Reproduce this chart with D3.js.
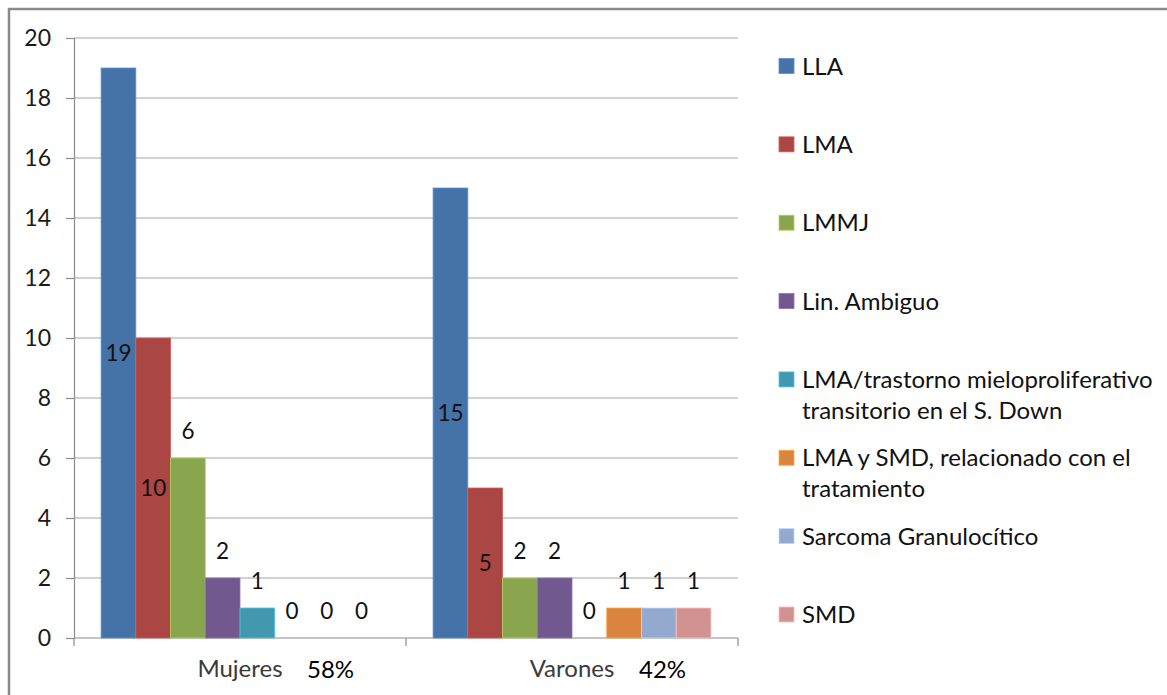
<!DOCTYPE html>
<html>
<head>
<meta charset="utf-8">
<script src="https://cdn.jsdelivr.net/npm/d3@7"></script>
<style>
  html, body { margin: 0; padding: 0; background: #fff; }
  svg { display: block; }
  text { font-family: Lato, "Noto Sans", sans-serif; }
</style>
</head>
<body>
<svg id="chart" width="1167" height="695"></svg>
<script>
// Categories (sex) and their share of cases
const categories = ["Mujeres", "Varones"];
const shares = ["58%", "42%"];

// Diagnosis series, in legend order
const series = [
  "LLA",
  "LMA",
  "LMMJ",
  "Lin. Ambiguo",
  "LMA/trastorno mieloproliferativo transitorio en el S. Down",
  "LMA y SMD, relacionado con el tratamiento",
  "Sarcoma Granulocítico",
  "SMD"
];
// Legend text split into the lines it wraps onto
const legendLines = [
  ["LLA"],
  ["LMA"],
  ["LMMJ"],
  ["Lin. Ambiguo"],
  ["LMA/trastorno mieloproliferativo", "transitorio en el S. Down"],
  ["LMA y SMD, relacionado con el", "tratamiento"],
  ["Sarcoma Granulocítico"],
  ["SMD"]
];
const colors = ["#4572A7", "#AA4643", "#89A54E", "#71588F", "#4198AF", "#DB843D", "#93A9CF", "#D19392"];

// Case counts per series
const mujeres = [19, 10, 6, 2, 1, 0, 0, 0];
const varones = [15, 5, 2, 2, 0, 1, 1, 1];
const values = [mujeres, varones];

// Where each series puts its value label
const labelPlacement = ["center", "center", "outside", "outside", "outside", "outside", "outside", "outside"];

const yTicks = [0, 2, 4, 6, 8, 10, 12, 14, 16, 18, 20];

const svg = d3.select("#chart");

// Chart frame
svg.append("rect")
  .attr("x", 9).attr("y", 9).attr("width", 1200).attr("height", 700)
  .attr("fill", "#fff").attr("stroke", "#8a8a8a").attr("stroke-width", 2.5);

const plot = { left: 74, right: 738, top: 38, bottom: 638 };

const x0 = d3.scaleBand().domain(categories).range([plot.left, plot.right]).paddingInner(0).paddingOuter(0);
const x1 = d3.scaleBand().domain(series).range([0, x0.bandwidth()]).paddingInner(0).paddingOuter(0.78);
const y = d3.scaleLinear().domain([0, 20]).range([plot.bottom, plot.top]);

// Horizontal gridlines
svg.append("g")
  .selectAll("line")
  .data(yTicks.filter(t => t > 0))
  .join("line")
  .attr("x1", plot.left).attr("x2", plot.right)
  .attr("y1", d => y(d)).attr("y2", d => y(d))
  .attr("stroke", "#a6a6a6").attr("stroke-width", 1.2);

// Y axis
const yAxis = svg.append("g")
  .attr("transform", `translate(${plot.left},0)`)
  .call(d3.axisLeft(y).tickValues(yTicks).tickSize(8).tickPadding(15));
yAxis.select(".domain").attr("stroke", "#8c8c8c").attr("stroke-width", 1.2);
yAxis.selectAll(".tick line").attr("stroke", "#8c8c8c").attr("stroke-width", 1.2);
yAxis.selectAll(".tick text")
  .attr("fill", "#1a1a1a")
  .style("font-size", "23px")
  .style("font-family", "Lato, sans-serif");

// X axis with tick marks at band boundaries
const xAxisG = svg.append("g");
xAxisG.append("line")
  .attr("x1", plot.left).attr("x2", plot.right)
  .attr("y1", y(0)).attr("y2", y(0))
  .attr("stroke", "#8c8c8c").attr("stroke-width", 1.2);
const boundaries = categories.map(c => x0(c)).concat([x0(categories[categories.length - 1]) + x0.bandwidth()]);
xAxisG.selectAll("line.tick")
  .data(boundaries)
  .join("line")
  .attr("class", "tick")
  .attr("x1", d => d).attr("x2", d => d)
  .attr("y1", y(0)).attr("y2", y(0) + 8)
  .attr("stroke", "#8c8c8c").attr("stroke-width", 1.2);

// Category labels and shares
const catG = svg.append("g").selectAll("g").data(categories).join("g");
catG.append("text")
  .attr("x", d => x0(d) + x0.bandwidth() / 2)
  .attr("y", 677)
  .attr("text-anchor", "middle")
  .attr("fill", "#3a3a3a")
  .style("font-size", "24px")
  .text(d => d);
catG.append("text")
  .attr("x", d => x0(d) + x0.bandwidth() / 2 + 67)
  .attr("y", 678)
  .attr("fill", "#000")
  .style("font-size", "24px")
  .text((d, i) => shares[i]);

// Bars
const groups = svg.append("g").selectAll("g")
  .data(categories)
  .join("g")
  .attr("transform", d => `translate(${x0(d)},0)`);

const cells = (ci) => series.map((s, si) => ({ s, si, v: values[ci][si] }));

groups.selectAll("rect")
  .data((d, ci) => cells(ci))
  .join("rect")
  .attr("x", d => x1(d.s))
  .attr("y", d => y(d.v))
  .attr("width", x1.bandwidth())
  .attr("height", d => y(0) - y(d.v))
  .attr("fill", d => colors[d.si])
  .attr("stroke", d => d.v > 0 ? d3.color(colors[d.si]).brighter(0.7) : "none")
  .attr("stroke-width", 0.8);

// Value labels
groups.selectAll("text")
  .data((d, ci) => cells(ci))
  .join("text")
  .attr("x", d => x1(d.s) + x1.bandwidth() / 2)
  .attr("y", d => labelPlacement[d.si] === "center"
    ? (y(d.v) + y(0)) / 2 + 8
    : y(d.v) - 19)
  .attr("text-anchor", "middle")
  .attr("fill", "#111")
  .style("font-size", "22.5px")
  .text(d => d.v);

// Legend
const legendY = d3.scalePoint().domain(series).range([66, 614.5]);
const legend = svg.append("g").selectAll("g")
  .data(series)
  .join("g")
  .attr("transform", d => `translate(779,${legendY(d)})`);
legend.append("rect")
  .attr("x", 0).attr("y", -7.5)
  .attr("width", 15).attr("height", 15)
  .attr("fill", (d, i) => colors[i])
  .attr("stroke", (d, i) => d3.color(colors[i]).brighter(0.7))
  .attr("stroke-width", 0.8);
legend.append("text")
  .attr("x", 23)
  .attr("y", 8.5)
  .attr("fill", "#111")
  .style("font-size", "24px")
  .selectAll("tspan")
  .data((d, i) => legendLines[i])
  .join("tspan")
  .attr("x", 23)
  .attr("dy", (d, j) => j === 0 ? 0 : 31)
  .text(d => d);
</script>
</body>
</html>
